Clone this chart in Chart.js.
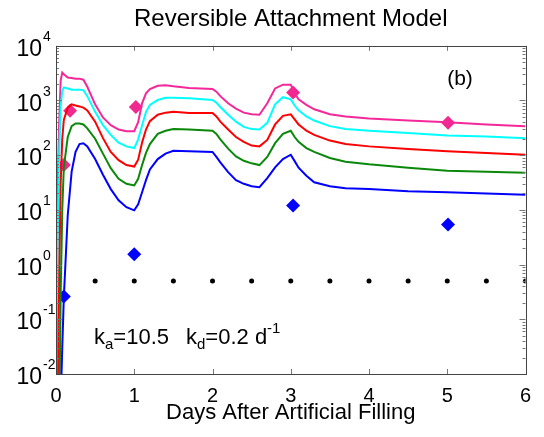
<!DOCTYPE html>
<html>
<head>
<meta charset="utf-8">
<script src="https://cdn.jsdelivr.net/npm/chart.js@4.4.1/dist/chart.umd.min.js"></script>
<style>
  html, body { margin: 0; padding: 0; background: #fff; }
  #wrap { width: 544px; height: 437px; }
</style>
</head>
<body>
<div id="wrap"><canvas id="chart"></canvas></div>
<script>
// model output, days after filling (shared x for the five curves)
const days = [0, 0.02, 0.04, 0.06, 0.08, 0.1, 0.15, 0.2, 0.25, 0.3, 0.35, 0.4, 0.5, 0.6, 0.7, 0.8, 0.9, 1.0,
  1.05, 1.1, 1.15, 1.2, 1.3, 1.4, 1.5, 1.7, 2.0, 2.05, 2.1, 2.2, 2.3, 2.4, 2.5, 2.6, 2.7, 2.8, 2.9, 3.0,
  3.05, 3.1, 3.2, 3.3, 3.5, 3.7, 4.0, 4.5, 5.0, 5.5, 6.0];

const magentaLine = [0.001, 20, 380, 2340, 3240, 3020, 2630, 2570, 2510, 2510, 2400, 1780, 850, 490, 355, 295, 275, 275,
  400, 890, 1350, 1620, 1860, 1900, 1820, 1700, 1620, 1450, 1200, 890, 710, 600, 560, 550, 890, 1660, 1950, 1950,
  1350, 1050, 830, 690, 560, 510, 470, 430, 400, 365, 340];
const cyanLine = [0.001, 2.5, 100, 790, 1480, 1740, 1660, 1580, 1580, 1580, 1550, 1200, 620, 355, 235, 170, 145, 135,
  195, 350, 620, 830, 1020, 1120, 1120, 1100, 1020, 910, 760, 550, 410, 330, 300, 295, 390, 850, 1150, 1050,
  810, 660, 510, 430, 340, 300, 280, 255, 230, 220, 205];
const redLine = [0.001, 0.001, 0.5, 32, 200, 440, 740, 850, 810, 780, 740, 660, 410, 205, 115, 81, 66, 62,
  83, 170, 295, 420, 550, 600, 620, 590, 590, 510, 410, 295, 215, 175, 150, 145, 190, 365, 525, 560,
  450, 365, 280, 235, 185, 160, 145, 130, 118, 110, 102];
const greenLine = [0.001, 0.001, 0.001, 0.3, 10, 60, 215, 340, 380, 380, 365, 310, 200, 107, 58, 37, 30, 28,
  37, 66, 110, 160, 245, 280, 300, 295, 280, 245, 195, 132, 95, 79, 71, 66, 93, 166, 245, 280,
  215, 175, 135, 115, 89, 76, 68, 59, 52, 50, 48];
const blueLine = [0.001, 0.001, 0.001, 0.003, 0.03, 0.25, 8, 50, 115, 160, 165, 145, 85, 44, 24, 15, 11.2, 9.8,
  12.6, 21, 35, 55, 85, 107, 120, 118, 115, 93, 74, 49, 35, 30, 27, 26, 38, 60, 85, 102,
  78, 59, 42, 32, 27, 25, 24, 22, 21, 20, 19];

// observations
const pinkDays = [0.1, 0.18, 1.02, 3.03, 5.01];
const pinkObs = [66, 650, 760, 1400, 390];
const blueDays = [0.1, 1.0, 3.03, 5.01];
const blueObs = [0.26, 1.55, 12, 5.4];

// detection limit dots
const dotDays = [0, 0.5, 1, 1.5, 2, 2.5, 3, 3.5, 4, 4.5, 5, 5.5, 6];
const dotLevel = [0.5, 0.5, 0.5, 0.5, 0.5, 0.5, 0.5, 0.5, 0.5, 0.5, 0.5, 0.5, 0.5];

const xTicks = [0, 1, 2, 3, 4, 5, 6];
const yExp = [-2, -1, 0, 1, 2, 3, 4];

const FONT = '"Liberation Sans", Arial, Helvetica, sans-serif';

function pts(xs, ys) {
  return xs.map((d, i) => ({ x: d, y: ys[i] }));
}

function curve(vals, color) {
  return {
    data: pts(days, vals),
    borderColor: color,
    borderWidth: 2,
    pointRadius: 0,
    tension: 0,
    fill: false,
    clip: 0
  };
}

const frame = {
  id: 'frame',
  afterDraw(chart) {
    const { ctx, chartArea: a, scales: { x, y } } = chart;
    ctx.save();

    // inward ticks, MATLAB style
    ctx.strokeStyle = '#777';
    ctx.lineWidth = 1;
    ctx.beginPath();
    xTicks.forEach(t => {
      const px = Math.round(x.getPixelForValue(t)) + 0.5;
      ctx.moveTo(px, a.bottom); ctx.lineTo(px, a.bottom - 5);
      ctx.moveTo(px, a.top); ctx.lineTo(px, a.top + 5);
    });
    yExp.forEach(e => {
      for (let m = 1; m < 10; m++) {
        const v = m * Math.pow(10, e);
        if (v > 10000.001) break;
        const py = Math.round(y.getPixelForValue(v)) + 0.5;
        const len = m === 1 ? 6 : 3;
        ctx.moveTo(a.left, py); ctx.lineTo(a.left + len, py);
        ctx.moveTo(a.right, py); ctx.lineTo(a.right - len, py);
      }
    });
    ctx.stroke();

    ctx.strokeStyle = '#444';
    ctx.strokeRect(Math.round(a.left) + 0.5, Math.round(a.top) + 0.5,
      Math.round(a.right - a.left), Math.round(a.bottom - a.top));

    // y labels with exponents
    ctx.fillStyle = '#000';
    yExp.forEach(e => {
      const py = y.getPixelForValue(Math.pow(10, e));
      ctx.font = '23px ' + FONT;
      ctx.textAlign = 'right';
      ctx.textBaseline = 'alphabetic';
      ctx.fillText('10', 42, py + 10);
      ctx.font = '14px ' + FONT;
      ctx.textAlign = 'left';
      ctx.fillText(String(e), 43, py - 5);
    });

    // panel letter
    ctx.font = '21px ' + FONT;
    ctx.textAlign = 'center';
    ctx.fillText('(b)', 460, 85);

    // rate constants
    ctx.textAlign = 'left';
    const big = '22px ' + FONT, small = '15px ' + FONT;
    let cx = 94;
    const put = (s, f, dy) => { ctx.font = f; ctx.fillText(s, cx, 344 + dy); cx += ctx.measureText(s).width; };
    put('k', big, 0); put('a', small, 5); put('=10.5', big, 0);
    cx = 186;
    put('k', big, 0); put('d', small, 5); put('=0.2 d', big, 0); put('-1', small, -11);

    ctx.restore();
  }
};

new Chart(document.getElementById('chart'), {
  type: 'line',
  data: {
    datasets: [
      curve(blueLine, '#0000ff'),
      curve(greenLine, '#0a880a'),
      curve(redLine, '#ff0000'),
      curve(cyanLine, '#00ffff'),
      curve(magentaLine, '#f5289a'),
      {
        data: pts(dotDays, dotLevel),
        showLine: false,
        pointStyle: 'circle',
        pointRadius: 2.5,
        pointBackgroundColor: '#000',
        pointBorderWidth: 0,
        clip: 0
      },
      {
        data: pts(pinkDays, pinkObs),
        showLine: false,
        pointStyle: 'rectRot',
        pointRadius: 7,
        pointBackgroundColor: '#f0288f',
        pointBorderWidth: 0,
        clip: false
      },
      {
        data: pts(blueDays, blueObs),
        showLine: false,
        pointStyle: 'rectRot',
        pointRadius: 7,
        pointBackgroundColor: '#0000ff',
        pointBorderWidth: 0,
        clip: false
      }
    ]
  },
  options: {
    responsive: true,
    maintainAspectRatio: false,
    animation: false,
    devicePixelRatio: 1,
    layout: { padding: { left: 0, right: 18.5, top: 0, bottom: 0 } },
    plugins: {
      legend: { display: false },
      tooltip: { enabled: false },
      title: {
        display: true,
        fullSize: false,
        text: 'Reversible Attachment Model',
        color: '#000',
        font: { family: FONT, size: 24, weight: 'normal' },
        padding: { top: 5, bottom: 12 }
      }
    },
    scales: {
      x: {
        type: 'linear',
        min: 0,
        max: 6,
        grid: { display: false, drawTicks: false },
        border: { display: false },
        ticks: {
          stepSize: 1,
          padding: 10,
          color: '#000',
          font: { family: FONT, size: 20 }
        },
        title: {
          display: true,
          text: 'Days After Artificial Filling',
          color: '#000',
          font: { family: FONT, size: 22 },
          padding: { top: 0, bottom: 11 }
        },
        afterFit: s => { s.height = 63; }
      },
      y: {
        type: 'logarithmic',
        min: 0.01,
        max: 10000,
        grid: { display: false, drawTicks: false },
        border: { display: false },
        ticks: { display: false },
        afterFit: s => { s.width = 56; }
      }
    }
  },
  plugins: [frame]
});
</script>
</body>
</html>
